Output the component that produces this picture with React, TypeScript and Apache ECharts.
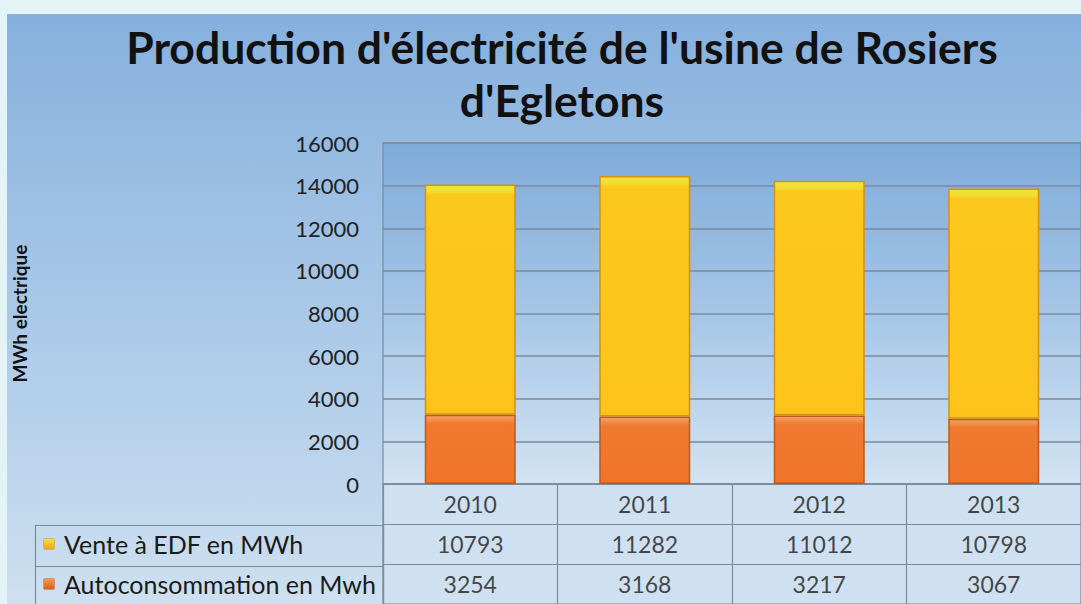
import React, { useEffect, useRef } from "react";
import * as echarts from "echarts";

const years = ["2010", "2011", "2012", "2013"];
const venteEDF = [10793, 11282, 11012, 10798];
const autoconsommation = [3254, 3168, 3217, 3067];
const rowNames = ["", "Vente à EDF en MWh", "Autoconsommation en Mwh"];
const yTicks = { min: 0, max: 16000, interval: 2000 };

const FONT = "Lato, 'Open Sans', sans-serif";

export default function App() {
  const ref = useRef<HTMLDivElement>(null);
  useEffect(() => {
    if (!ref.current) return;
    const chart = echarts.init(ref.current, null, { renderer: "svg" });
    const lin = (stops: [number, string][], x2 = 0, y2 = 1) =>
      new echarts.graphic.LinearGradient(0, 0, x2, y2, stops.map(([offset, color]) => ({ offset, color })));

    const tableData: any[] = [];
    years.forEach((y, i) => {
      tableData.push([y, rowNames[0], y]);
      tableData.push([y, rowNames[1], String(venteEDF[i])]);
      tableData.push([y, rowNames[2], String(autoconsommation[i])]);
    });

    const option: any = {
      animation: false,
      backgroundColor: "#e4f3f5",
      textStyle: { fontFamily: FONT },
      graphic: [
        {
          type: "rect",
          z: -10,
          silent: true,
          shape: { x: 7, y: 14, width: 1074, height: 590 },
          style: { fill: lin([[0, "#86b0dd"], [0.5, "#a9c8e8"], [1, "#cee0f0"]]) },
        },
        {
          type: "text",
          x: 562,
          y: 20,
          z: 10,
          style: {
            text: "Production d'électricité de l'usine de Rosiers\nd'Egletons",
            font: `bold 44.5px ${FONT}`,
            fill: "#111111",
            textAlign: "center",
            lineHeight: 53,
          },
        },
        {
          type: "rect",
          z: 5,
          silent: true,
          shape: { x: 35.5, y: 525.5, width: 348, height: 90 },
          style: { fill: "none", stroke: "#7d8a97", lineWidth: 1.2 },
        },
        {
          type: "line",
          z: 5,
          silent: true,
          shape: { x1: 35.5, y1: 566.5, x2: 383, y2: 566.5 },
          style: { stroke: "#7d8a97", lineWidth: 1.2 },
        },
      ],
      grid: [
        {
          left: 383,
          top: 143,
          width: 716,
          height: 341,
          show: true,
          backgroundColor: lin([[0, "#7eabda"], [0.5, "#a6c6e7"], [1, "#d2e3f2"]]),
          borderColor: "#7d8a97",
          borderWidth: 1.2,
        },
        {
          left: 383,
          top: 484,
          width: 716,
          height: 124,
          show: true,
          backgroundColor: "#cfe0f0",
          borderColor: "#7d8a97",
          borderWidth: 1.2,
        },
      ],
      xAxis: [
        {
          type: "category",
          gridIndex: 0,
          data: years,
          axisLabel: { show: false },
          axisTick: { show: false },
          axisLine: { show: false },
        },
        {
          type: "category",
          gridIndex: 1,
          data: years,
          axisLabel: { show: false },
          axisTick: { show: false },
          axisLine: { show: false },
          splitLine: { show: true, lineStyle: { color: "#7d8a97", width: 1.2 } },
        },
      ],
      yAxis: [
        {
          type: "value",
          gridIndex: 0,
          min: yTicks.min,
          max: yTicks.max,
          interval: yTicks.interval,
          name: "MWh electrique",
          nameLocation: "middle",
          nameGap: 354,
          nameRotate: 90,
          nameTextStyle: { fontFamily: FONT, fontWeight: "bold", fontSize: 19, color: "#111" },
          axisLabel: {
            fontFamily: FONT,
            fontSize: 22,
            color: "#222",
            margin: 24,
            formatter: (v: number) => String(v),
          },
          axisLine: { show: false },
          axisTick: { show: false },
          splitLine: { lineStyle: { color: "#7d8a97", width: 1.5 } },
        },
        {
          type: "category",
          gridIndex: 1,
          data: rowNames,
          inverse: true,
          axisLine: { show: false },
          axisTick: { show: false },
          splitLine: { show: true, lineStyle: { color: "#7d8a97", width: 1.2 } },
          axisLabel: {
            align: "left",
            margin: 339,
            fontFamily: FONT,
            fontSize: 25,
            color: "#1a1a1a",
            formatter: (v: string) => {
              if (v === rowNames[1]) return `{y|}{t|${v}}`;
              if (v === rowNames[2]) return `{o|}{t|${v}}`;
              return "";
            },
            rich: {
              y: {
                width: 10,
                height: 10,
                backgroundColor: lin([[0, "#f7e040"], [1, "#f0a810"]]),
                borderColor: "#d09010",
                borderWidth: 0.5,
              },
              o: {
                width: 10,
                height: 10,
                backgroundColor: lin([[0, "#f59a50"], [1, "#e05a18"]]),
                borderColor: "#c05010",
                borderWidth: 0.5,
              },
              t: { fontFamily: FONT, fontSize: 25, color: "#1a1a1a", padding: [0, 0, 0, 10] },
            },
          },
        },
      ],
      series: [
        {
          name: rowNames[2],
          type: "bar",
          stack: "total",
          xAxisIndex: 0,
          yAxisIndex: 0,
          barWidth: 91,
          data: autoconsommation,
          itemStyle: {
            color: lin([[0, "#f6a064"], [0.08, "#f28a44"], [0.12, "#f07a30"], [1, "#ee7428"]]),
            borderColor: "#bf5818",
            borderWidth: 1.5,
          },
        },
        {
          name: rowNames[1],
          type: "bar",
          stack: "total",
          xAxisIndex: 0,
          yAxisIndex: 0,
          barWidth: 91,
          data: venteEDF,
          itemStyle: {
            color: lin([[0, "#eee63a"], [0.03, "#f2dc2e"], [0.04, "#fdc81e"], [1, "#fdc31a"]]),
            borderColor: "#d8900e",
            borderWidth: 1.5,
          },
        },
        {
          type: "scatter",
          xAxisIndex: 1,
          yAxisIndex: 1,
          symbolSize: 0,
          silent: true,
          data: tableData,
          label: {
            show: true,
            position: "inside",
            formatter: (p: any) => p.data[2],
            fontFamily: FONT,
            fontSize: 23,
            color: "#1a1a1a",
          },
        },
      ],
    };
    chart.setOption(option);
    return () => chart.dispose();
  }, []);
  return (
    <div
      ref={ref}
      style={{ position: "fixed", left: 0, top: 0, width: 1081, height: 604 }}
    />
  );
}
